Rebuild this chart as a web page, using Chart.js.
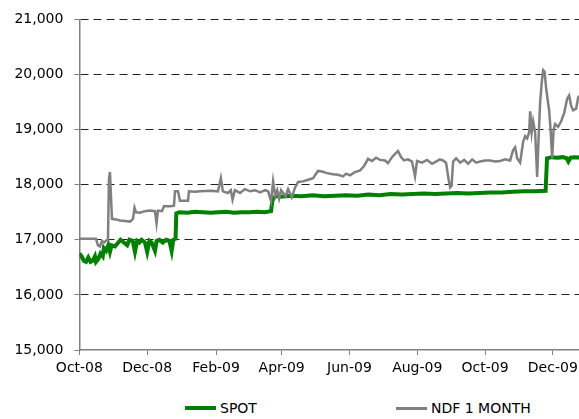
<!DOCTYPE html>
<html>
<head>
<meta charset="utf-8">
<script src="https://cdn.jsdelivr.net/npm/chart.js@4/dist/chart.umd.min.js"></script>
<style>
  body { margin: 0; background: #fff; overflow: hidden; font-family: "DejaVu Sans", Verdana, sans-serif; }
  #wrap { position: relative; width: 579px; height: 419px; overflow: hidden; }
  #chart { position: absolute; left: 0; top: 0; }
  .key { position: absolute; top: 399px; height: 18px; display: flex; align-items: center; font-size: 14px; color: #000; }
  .key .ln { display: inline-block; width: 31px; margin-right: 4px; }
</style>
</head>
<body>
<div id="wrap">
  <canvas id="chart" width="620" height="390"></canvas>
  <div class="key" style="left:185px"><span class="ln" style="height:4px;background:#008000"></span>SPOT</div>
  <div class="key" style="left:396px"><span class="ln" style="height:3px;background:#808080"></span>NDF 1 MONTH</div>
</div>
<script>
// days counted from 1 Oct 2008
const tickDays = [0, 61, 123, 182, 243, 304, 365, 426];
const tickLabels = ['Oct-08', 'Dec-08', 'Feb-09', 'Apr-09', 'Jun-09', 'Aug-09', 'Oct-09', 'Dec-09'];

const spotDays = [0, 2, 4, 6, 8, 10, 12, 14, 15, 17, 19, 21, 22, 24, 26, 27.5, 29, 32, 35, 37,
  40, 43, 45, 48, 50, 52, 54, 56, 59, 61, 63, 65, 68, 69.5, 72, 75, 78, 81, 83, 84.5,
  86.5, 87.2, 90, 97, 104, 111, 118, 125, 132, 139, 146, 153, 160, 167, 172.5, 173.5, 175, 177, 181, 190,
  200, 210, 220, 230, 240, 250, 260, 270, 280, 290, 300, 310, 320, 330, 340, 350, 360, 370, 380, 390,
  400, 410, 419.5, 420.8, 425, 430, 435, 438.5, 440, 442, 446, 455];
const spotValues = [16750, 16700, 16620, 16600, 16680, 16600, 16620, 16700, 16600, 16650, 16750, 16700, 16850, 16800, 16900, 16780, 16900, 16880, 16950, 17000,
  16950, 16900, 17000, 16980, 16780, 16980, 16950, 17000, 16950, 16780, 16980, 16950, 16800, 16980, 17000, 16950, 17000, 16980, 16800, 17000,
  17020, 17480, 17500, 17490, 17510, 17500, 17490, 17500, 17510, 17490, 17500, 17500, 17510, 17500, 17520, 17700, 17760, 17800, 17780, 17800,
  17790, 17810, 17790, 17800, 17810, 17800, 17820, 17810, 17830, 17820, 17830, 17840, 17830, 17840, 17850, 17840, 17850, 17860, 17860, 17870,
  17880, 17880, 17890, 18480, 18500, 18490, 18500, 18480, 18420, 18490, 18500, 18490];

const ndfDays = [0, 14.9, 16.7, 18.5, 20.3, 22.1, 23.9, 25.7, 26.6, 27.5, 28.4, 29.3, 32.9, 36.5, 41, 45.5, 48.2, 49.6, 50.9, 54.5,
  59, 63.5, 68, 69.4, 70.7, 74.3, 76.1, 81.5, 85.1, 86, 88.7, 90.5, 97.7, 98.6, 104, 108.5, 117.5, 124.7, 127.3, 129.1,
  133.6, 136.3, 137.8, 140, 144.5, 149, 153.6, 158, 162.6, 167.1, 169.8, 172.5, 174.3, 176.2, 178, 179.7, 181.5, 185.5, 187.8, 191.1,
  194.1, 196.8, 201.3, 205.8, 210.3, 214.7, 218.3, 222.8, 228.3, 232.7, 237.3, 239.9, 243.5, 248, 252.6, 256.2, 259.8, 263.3, 266.9, 270.5,
  275, 277.7, 281.3, 284, 286.7, 289.4, 292.1, 295.7, 299.3, 302, 303.8, 308.3, 312.8, 317.3, 320.9, 324.4, 327.2, 329.9, 332.2, 333.6,
  334.9, 336.3, 339, 342.6, 346.2, 349.8, 353.4, 357, 360.6, 365.1, 369.6, 374.1, 378.6, 383.1, 387.6, 390.3, 392.1, 393.9, 396.6, 399.3,
  401.1, 402.9, 404.7, 405.6, 407, 408.3, 410.1, 411.9, 413.2, 414.6, 416, 417.3, 418.6, 420, 421.3, 422.7, 424, 425.4, 426.7, 428.1,
  430.8, 433.5, 436.2, 438.9, 440.7, 442.5, 444.3, 447, 448.8, 450.6];
const ndfValues = [17020, 17020, 16900, 16880, 16980, 16950, 16980, 17000, 18100, 18230, 17800, 17380, 17370, 17350, 17340, 17330, 17380, 17580, 17500, 17490,
  17520, 17530, 17520, 17300, 17530, 17520, 17610, 17610, 17620, 17880, 17880, 17710, 17710, 17880, 17870, 17880, 17890, 17880, 18120, 17880,
  17850, 17900, 17730, 17900, 17850, 17920, 17880, 17900, 17860, 17900, 17880, 17700, 18060, 17800, 17900, 17750, 17900, 17790, 17920, 17770,
  17950, 18050, 18060, 18090, 18120, 18250, 18240, 18210, 18190, 18180, 18150, 18200, 18170, 18230, 18260, 18340, 18470, 18430, 18490, 18450,
  18440, 18390, 18500, 18560, 18610, 18500, 18440, 18460, 18420, 18150, 18430, 18400, 18450, 18380, 18420, 18460, 18440, 18400, 18100, 17950,
  17980, 18420, 18480, 18400, 18450, 18380, 18460, 18400, 18420, 18440, 18440, 18420, 18430, 18460, 18440, 18630, 18680, 18480, 18400, 18780,
  18880, 18840, 18950, 19330, 18950, 19150, 18950, 18140, 18850, 19500, 19850, 20080, 20050, 19750, 19550, 19350, 19000, 18480, 19000, 19100,
  19050, 19150, 19300, 19560, 19620, 19430, 19350, 19380, 19580, 19620];

function toPoints(days, values) {
  return days.map((d, i) => ({ x: d, y: values[i] }));
}

function formatThousands(v) {
  return String(v).replace(/\B(?=(\d{3})+(?!\d))/g, ',');
}

const font = { family: '"DejaVu Sans", Verdana, sans-serif', size: 14 };

new Chart(document.getElementById('chart'), {
  type: 'line',
  data: {
    datasets: [
      {
        label: 'SPOT',
        data: toPoints(spotDays, spotValues),
        borderColor: '#008000',
        borderWidth: 4,
        pointRadius: 0,
        tension: 0,
        order: 2
      },
      {
        label: 'NDF 1 MONTH',
        data: toPoints(ndfDays, ndfValues),
        borderColor: '#808080',
        borderWidth: 2.5,
        pointRadius: 0,
        tension: 0,
        order: 1
      }
    ]
  },
  options: {
    responsive: false,
    animation: false,
    layout: { padding: { top: 16, left: 0, right: 0, bottom: 0 } },
    plugins: { legend: { display: false }, tooltip: { enabled: false } },
    scales: {
      x: {
        type: 'linear',
        min: 0,
        max: (620 - 79.4) / 1.1113,
        afterBuildTicks: s => { s.ticks = tickDays.map(v => ({ value: v })); },
        afterFit: s => { s.height = 40; },
        ticks: {
          autoSkip: false,
          maxRotation: 0,
          padding: 5,
          color: '#000',
          font: font,
          callback: (v, i) => tickLabels[i]
        },
        grid: { drawOnChartArea: false, drawTicks: true, tickLength: 5, tickColor: '#808080', tickWidth: 1 },
        border: { color: '#808080', width: 1.5 }
      },
      y: {
        min: 15000,
        max: 21000,
        afterFit: s => { s.width = 79.4; },
        ticks: {
          stepSize: 1000,
          padding: 11,
          color: '#000',
          font: font,
          callback: v => formatThousands(v)
        },
        grid: {
          color: c => (c.tick && c.tick.value === 15000) ? 'rgba(0,0,0,0)' : '#222',
          lineWidth: 1,
          tickLength: 5,
          tickColor: '#808080',
          tickWidth: 1
        },
        border: { color: '#808080', width: 1.5, dash: [8, 5] }
      }
    }
  }
});
</script>
</body>
</html>
